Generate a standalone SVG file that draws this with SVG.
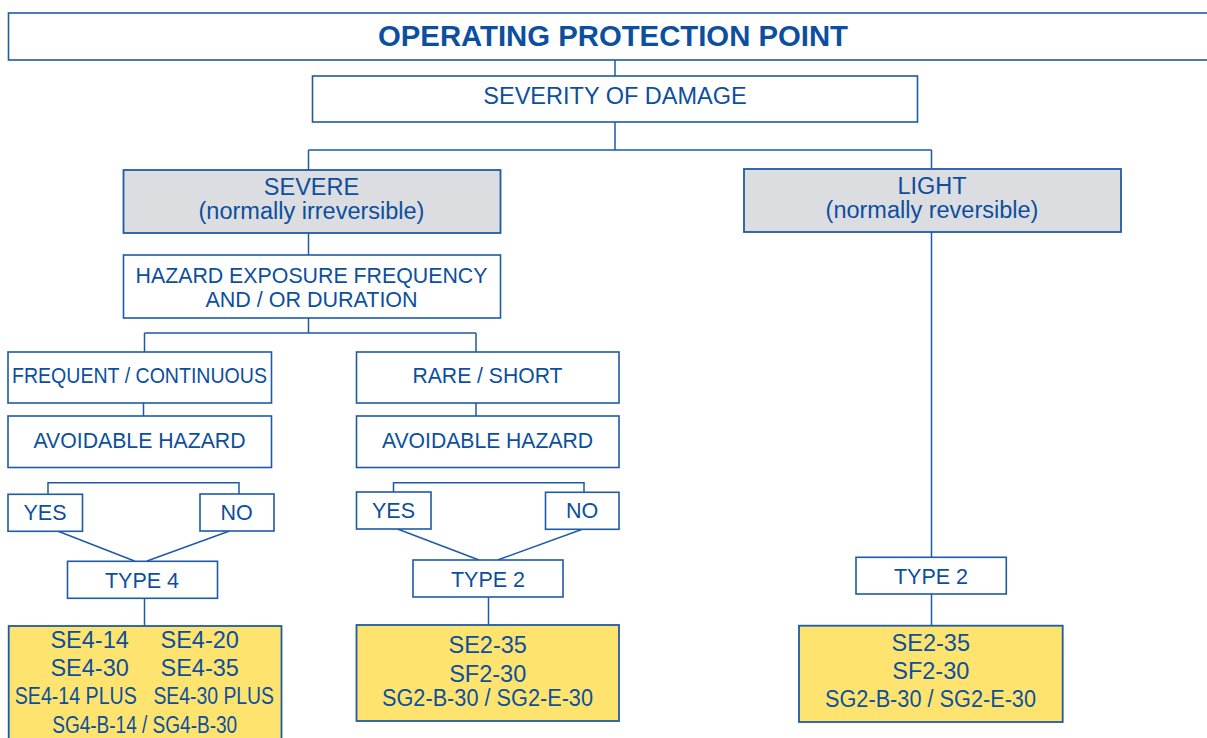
<svg xmlns="http://www.w3.org/2000/svg" width="1207" height="738" viewBox="0 0 1207 738">
<style>
.b{fill:#ffffff;stroke:#1d5aa8;stroke-width:1.6}
.g{fill:#dcdde0;stroke:#1d5aa8;stroke-width:1.8}
.y{fill:#fee46f;stroke:#1d5aa8;stroke-width:1.8}
.c{fill:none;stroke:#1d5aa8;stroke-width:1.5}
text{font-family:"Liberation Sans",Arial,sans-serif;fill:#0c4f9e;text-anchor:middle}
.t{font-size:29px;font-weight:bold}
.m{font-size:23.5px}
.s{font-size:21.5px}
.p{font-size:23.5px}
</style>
<rect width="1207" height="738" fill="#ffffff"/>
<g id="connectors">
<path class="c" d="M615,60 V76"/>
<path class="c" d="M615,122 V150 M308.5,150 H931.5 M308.5,150 V170 M931.5,150 V169"/>
<path class="c" d="M308.5,233 V255"/>
<path class="c" d="M308.5,318 V333 M144.5,333 H476 M144.5,333 V352 M476,333 V352"/>
<path class="c" d="M143.5,403 V416 M476,403 V416"/>
<path class="c" d="M48,494 V482.7 H239 V494"/>
<path class="c" d="M393.5,492 V482.7 H584 V492"/>
<path class="c" d="M57.5,531 L134.5,561 M229.5,531 L147,561"/>
<path class="c" d="M397.5,529 L479,560 M583,529 L497.5,560"/>
<path class="c" d="M144.5,598 V626"/>
<path class="c" d="M488.5,597 V625"/>
<path class="c" d="M931.5,232 V557 M931.5,594 V626"/>
</g>
<g id="title">
<rect class="b" x="8.5" y="13" width="1210" height="47"/>
<text class="t" x="613" y="46" textLength="470" lengthAdjust="spacingAndGlyphs">OPERATING PROTECTION POINT</text>
</g>
<g id="severity">
<rect class="b" x="312.5" y="76" width="605" height="46"/>
<text class="m" x="615" y="104">SEVERITY OF DAMAGE</text>
</g>
<g id="severe">
<rect class="g" x="123.5" y="170" width="377" height="63"/>
<text class="m" x="311.5" y="195">SEVERE</text>
<text class="m" x="311.5" y="218.5">(normally irreversible)</text>
</g>
<g id="light">
<rect class="g" x="744" y="169" width="377" height="63"/>
<text class="m" x="932" y="194">LIGHT</text>
<text class="m" x="932" y="218">(normally reversible)</text>
</g>
<g id="hazard">
<rect class="b" x="123.5" y="255" width="377" height="63"/>
<text class="s" x="311.5" y="282.5" textLength="352" lengthAdjust="spacingAndGlyphs">HAZARD EXPOSURE FREQUENCY</text>
<text class="s" x="311.5" y="306.5">AND / OR DURATION</text>
</g>
<g id="frequent">
<rect class="b" x="8" y="352" width="263.5" height="51"/>
<text class="s" x="139.5" y="383.3" textLength="255" lengthAdjust="spacingAndGlyphs">FREQUENT / CONTINUOUS</text>
</g>
<g id="rare">
<rect class="b" x="356.5" y="352" width="262.5" height="51"/>
<text class="s" x="487.5" y="383.3" textLength="150" lengthAdjust="spacingAndGlyphs">RARE / SHORT</text>
</g>
<g id="avoidable1">
<rect class="b" x="8" y="416" width="263.5" height="51.5"/>
<text class="s" x="139.5" y="448.3" textLength="212" lengthAdjust="spacingAndGlyphs">AVOIDABLE HAZARD</text>
</g>
<g id="avoidable2">
<rect class="b" x="356.5" y="416" width="262.5" height="51.5"/>
<text class="s" x="487.5" y="448.3" textLength="211" lengthAdjust="spacingAndGlyphs">AVOIDABLE HAZARD</text>
</g>
<g id="yes1">
<rect class="b" x="8" y="494.3" width="74.5" height="37"/>
<text class="s" x="45" y="520">YES</text>
</g>
<g id="no1">
<rect class="b" x="200" y="494" width="74" height="37"/>
<text class="s" x="236.5" y="520">NO</text>
</g>
<g id="yes2">
<rect class="b" x="356.5" y="492" width="74.5" height="37"/>
<text class="s" x="393.5" y="518.3">YES</text>
</g>
<g id="no2">
<rect class="b" x="545.5" y="492.3" width="73.5" height="37"/>
<text class="s" x="582" y="518.3">NO</text>
</g>
<g id="type4">
<rect class="b" x="67.5" y="561.3" width="150" height="37"/>
<text class="s" x="142" y="588.3">TYPE 4</text>
</g>
<g id="type2a">
<rect class="b" x="413" y="560" width="150" height="37"/>
<text class="s" x="488" y="586.7">TYPE 2</text>
</g>
<g id="type2b">
<rect class="b" x="856" y="557.3" width="150.3" height="36.7"/>
<text class="s" x="931" y="584">TYPE 2</text>
</g>
<g id="models4">
<rect class="y" x="8.7" y="626" width="272.8" height="120"/>
<text class="p" x="89.6" y="648.3">SE4-14</text>
<text class="p" x="199.7" y="648.3">SE4-20</text>
<text class="p" x="89.6" y="676">SE4-30</text>
<text class="p" x="199.7" y="676">SE4-35</text>
<text class="p" x="75.8" y="704.3" textLength="122" lengthAdjust="spacingAndGlyphs">SE4-14 PLUS</text>
<text class="p" x="213.7" y="704.3" textLength="120.6" lengthAdjust="spacingAndGlyphs">SE4-30 PLUS</text>
<text class="p" x="144.7" y="733.3" textLength="185" lengthAdjust="spacingAndGlyphs">SG4-B-14 / SG4-B-30</text>
</g>
<g id="models2a">
<rect class="y" x="356.5" y="625" width="262.5" height="96"/>
<text class="p" x="487.7" y="653.3">SE2-35</text>
<text class="p" x="487.7" y="681.7">SF2-30</text>
<text class="p" x="487.5" y="705.7" textLength="211" lengthAdjust="spacingAndGlyphs">SG2-B-30  / SG2-E-30</text>
</g>
<g id="models2b">
<rect class="y" x="799" y="625.7" width="263.7" height="96.3"/>
<text class="p" x="930.8" y="650.7">SE2-35</text>
<text class="p" x="930.8" y="678.7">SF2-30</text>
<text class="p" x="930.5" y="707.3" textLength="211" lengthAdjust="spacingAndGlyphs">SG2-B-30  / SG2-E-30</text>
</g>
</svg>
